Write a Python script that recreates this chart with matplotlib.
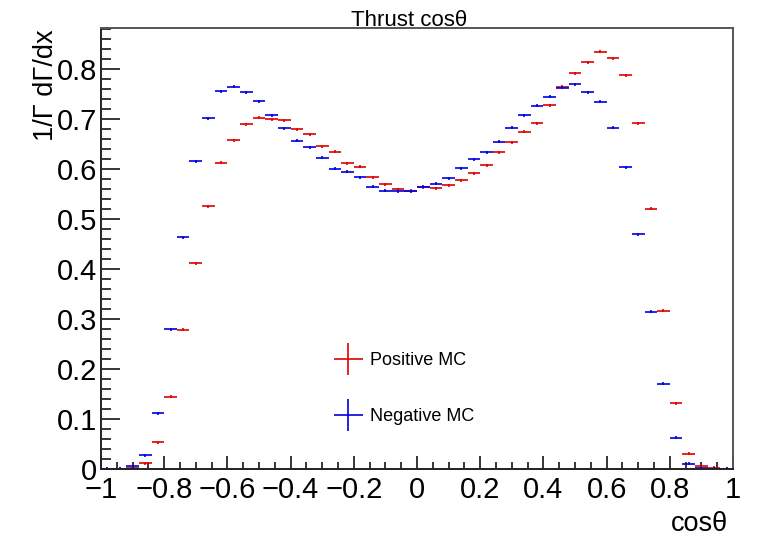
import numpy as np
import matplotlib
matplotlib.use("Agg")
import matplotlib.pyplot as plt
from matplotlib.ticker import MultipleLocator, FuncFormatter
from matplotlib.legend_handler import HandlerErrorbar

plt.rcParams['font.family'] = ['Liberation Sans', 'DejaVu Sans']

# 50 bins of cos(theta), -1 .. 1
bin_edges = np.linspace(-1, 1, 51)

positive_mc = [0.0, 0.0005, 0.002, 0.011, 0.053, 0.144, 0.278, 0.411, 0.525, 0.612,
               0.657, 0.689, 0.702, 0.699, 0.697, 0.679, 0.669, 0.645, 0.634, 0.611,
               0.604, 0.583, 0.569, 0.559, 0.556, 0.563, 0.561, 0.567, 0.577, 0.591,
               0.607, 0.633, 0.653, 0.674, 0.691, 0.727, 0.764, 0.791, 0.813, 0.834,
               0.821, 0.787, 0.691, 0.520, 0.316, 0.131, 0.030, 0.005, 0.002, 0.0]

negative_mc = [0.0, 0.0005, 0.005, 0.027, 0.111, 0.279, 0.463, 0.615, 0.701, 0.755,
               0.764, 0.753, 0.735, 0.707, 0.681, 0.656, 0.643, 0.622, 0.600, 0.594,
               0.583, 0.564, 0.556, 0.555, 0.555, 0.564, 0.570, 0.581, 0.601, 0.619,
               0.633, 0.654, 0.682, 0.707, 0.726, 0.744, 0.762, 0.769, 0.753, 0.734,
               0.682, 0.603, 0.469, 0.314, 0.170, 0.062, 0.010, 0.001, 0.0, 0.0]

stat_err = 0.003

centers = 0.5 * (bin_edges[1:] + bin_edges[:-1])
half_width = 0.5 * (bin_edges[1] - bin_edges[0])

fig = plt.figure(figsize=(7.59, 5.37), dpi=100)
ax = fig.add_axes([101 / 759, 1 - 469 / 537, 632 / 759, 441 / 537])

pos = ax.errorbar(centers, positive_mc, xerr=half_width, yerr=stat_err, fmt='none',
                  ecolor='#e00000', elinewidth=1.2, label='Positive MC')
neg = ax.errorbar(centers, negative_mc, xerr=half_width, yerr=stat_err, fmt='none',
                  ecolor='#0000e0', elinewidth=1.2, label='Negative MC')

ax.set_xlim(-1, 1)
ax.set_ylim(0, 0.881)

ax.xaxis.set_major_locator(MultipleLocator(0.2))
ax.xaxis.set_minor_locator(MultipleLocator(0.05))
ax.yaxis.set_major_locator(MultipleLocator(0.1))
ax.yaxis.set_minor_locator(MultipleLocator(0.02))
fmt = FuncFormatter(lambda v, p: ('%g' % round(v, 3)).replace('-', '\u2212'))
ax.xaxis.set_major_formatter(fmt)
ax.yaxis.set_major_formatter(fmt)

ax.tick_params(axis='x', which='major', direction='in', length=9.4, width=1.1,
               labelsize=21, pad=5)
ax.tick_params(axis='x', which='minor', direction='in', length=4.7, width=1.1)
ax.tick_params(axis='y', which='major', direction='in', length=13.7, width=1.1,
               labelsize=21, pad=3)
ax.tick_params(axis='y', which='minor', direction='in', length=7.2, width=1.1)

for side in ['top', 'right']:
    ax.spines[side].set_color('#555555')
for side in ['left', 'bottom']:
    ax.spines[side].set_color('#222222')
for sp in ax.spines.values():
    sp.set_linewidth(1.4)

fig.text(409 / 759, 1 - 26 / 537, 'Thrust cos\u03b8', ha='center', va='baseline',
         fontsize=16)
fig.text(728 / 759, 1 - 531 / 537, 'cos\u03b8', ha='right', va='baseline',
         fontsize=19.5)
fig.text(46 / 759, 1 - 29 / 537, '1/\u0393 d\u0393/dx', ha='center', va='top',
         rotation=90, fontsize=19.5)

leg = ax.legend(handles=[pos, neg], loc='center left',
                bbox_to_anchor=(333 / 759, 1 - 388.5 / 537),
                bbox_transform=fig.transFigure, frameon=False, fontsize=13,
                borderpad=0, borderaxespad=0, handlelength=1.7, handletextpad=0.35,
                labelspacing=2.17,
                handler_map={type(pos): HandlerErrorbar(xerr_size=0.8, yerr_size=0.89,
                                                        numpoints=1)})

fig.savefig('out.png', dpi=100, facecolor='white')
